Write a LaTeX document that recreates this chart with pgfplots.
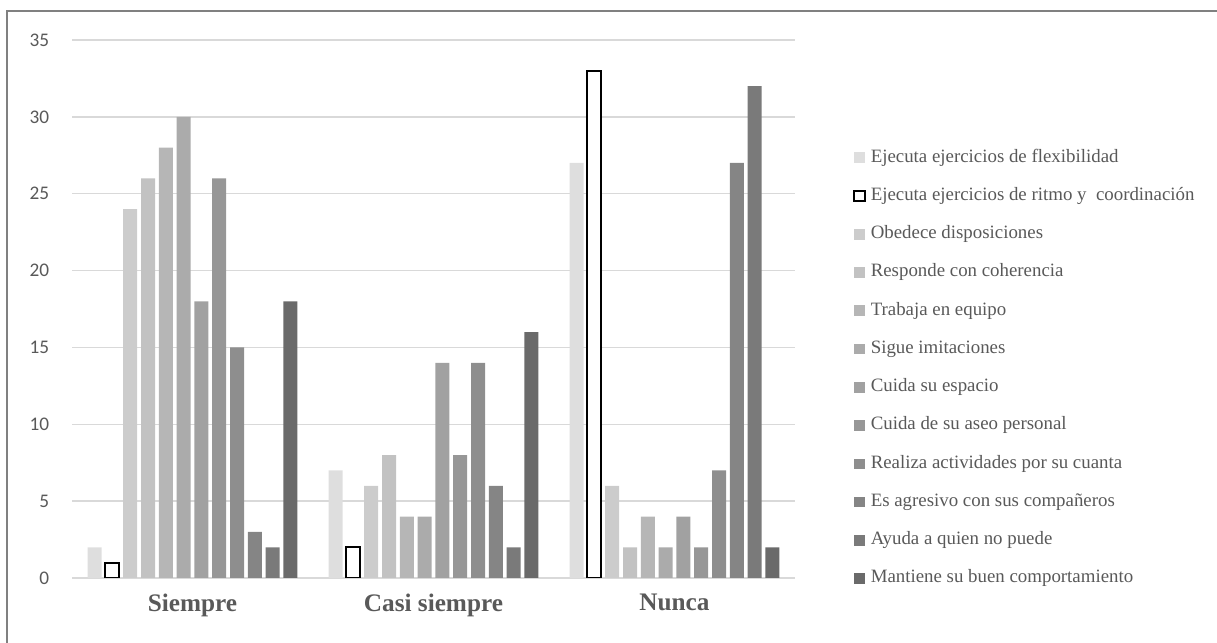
\documentclass[border=0pt]{standalone}
\usepackage{fontspec}
\setmainfont{Liberation Serif}
\newfontfamily\carlito{Carlito}
\usepackage{pgfplots}
\usepackage{pgfplotstable}
\pgfplotsset{compat=1.18}

\definecolor{txt}{HTML}{595959}
\definecolor{gridc}{HTML}{D9D9D9}
\definecolor{frame}{HTML}{808080}
\definecolor{c1}{HTML}{DEDEDE}
\definecolor{c3}{HTML}{CCCCCC}
\definecolor{c4}{HTML}{C2C2C2}
\definecolor{c5}{HTML}{B6B6B6}
\definecolor{c6}{HTML}{ABABAB}
\definecolor{c7}{HTML}{A1A1A1}
\definecolor{c8}{HTML}{979797}
\definecolor{c9}{HTML}{8E8E8E}
\definecolor{c10}{HTML}{858585}
\definecolor{c11}{HTML}{7A7A7A}
\definecolor{c12}{HTML}{6A6A6A}

% columns: one per indicator, rows: Siempre, Casi siempre, Nunca
\pgfplotstableread{
x  a  b  c  d  e  f  g  h  i  j  k  l
0  2  1 24 26 28 30 18 26 15  3  2 18
1  7  2  6  8  4  4 14  8 14  6  2 16
2 27 33  6  2  4  2  4  2  7 27 32  2
}\datos

\begin{document}
\begin{tikzpicture}
\useasboundingbox (0,0) rectangle (912.75bp,482.25bp);
\draw[color=frame, line width=1.1bp] (5.25bp,0) -- (5.25bp,474bp) -- (912.75bp,474bp);
\begin{axis}[
  at={(54bp,48.75bp)}, anchor=south west,
  scale only axis,
  width=542.25bp, height=403.5bp,
  ybar=2.85bp, bar width=10.5bp,
  xmin=-0.5, xmax=2.5,
  ymin=0, ymax=35,
  xtick={0,1,2},
  xticklabels={Siempre, Casi siempre, Nunca},
  ytick={0,5,...,35},
  major tick length=0pt,
  axis line style={draw=none},
  ymajorgrids,
  grid style={color=gridc, line width=1.1bp},
  yticklabel style={font=\carlito\fontsize{14.5}{14.5}\selectfont, text=txt, inner sep=0pt, xshift=-17bp},
  xticklabel style={font=\bfseries\fontsize{19}{19}\selectfont, text=txt, inner sep=0pt, yshift=-12bp},
  /pgf/number format/assume math mode=true,
  legend cell align=left,
  legend image code/.code={\path[#1] (0bp,-4bp) rectangle (8bp,4bp);},
  legend style={at={(1.080,0.390)}, anchor=west, draw=none, fill=none,
    inner sep=0pt, font=\fontsize{14.2}{14.2}\selectfont, text=txt,
    row sep=16.2bp,
    nodes={inner sep=0pt, text height=9.5bp, text depth=3bp},
    /tikz/every odd column/.append style={column sep=3.75bp}},
]
\addplot[fill=c1, draw=none] table[x=x, y=a] {\datos};
\addplot[fill=white, draw=black, line width=1.5bp] table[x=x, y=b] {\datos};
\addplot[fill=c3, draw=none] table[x=x, y=c] {\datos};
\addplot[fill=c4, draw=none] table[x=x, y=d] {\datos};
\addplot[fill=c5, draw=none] table[x=x, y=e] {\datos};
\addplot[fill=c6, draw=none] table[x=x, y=f] {\datos};
\addplot[fill=c7, draw=none] table[x=x, y=g] {\datos};
\addplot[fill=c8, draw=none] table[x=x, y=h] {\datos};
\addplot[fill=c9, draw=none] table[x=x, y=i] {\datos};
\addplot[fill=c10, draw=none] table[x=x, y=j] {\datos};
\addplot[fill=c11, draw=none] table[x=x, y=k] {\datos};
\addplot[fill=c12, draw=none] table[x=x, y=l] {\datos};
\legend{Ejecuta ejercicios de flexibilidad,
  Ejecuta ejercicios de ritmo y~ coordinación,
  Obedece disposiciones,
  Responde con coherencia,
  Trabaja en equipo,
  Sigue imitaciones,
  Cuida su espacio,
  Cuida de su aseo personal,
  Realiza actividades por su cuanta,
  Es agresivo con sus compañeros,
  Ayuda a quien no puede,
  Mantiene su buen comportamiento}
\end{axis}
\end{tikzpicture}
\end{document}
